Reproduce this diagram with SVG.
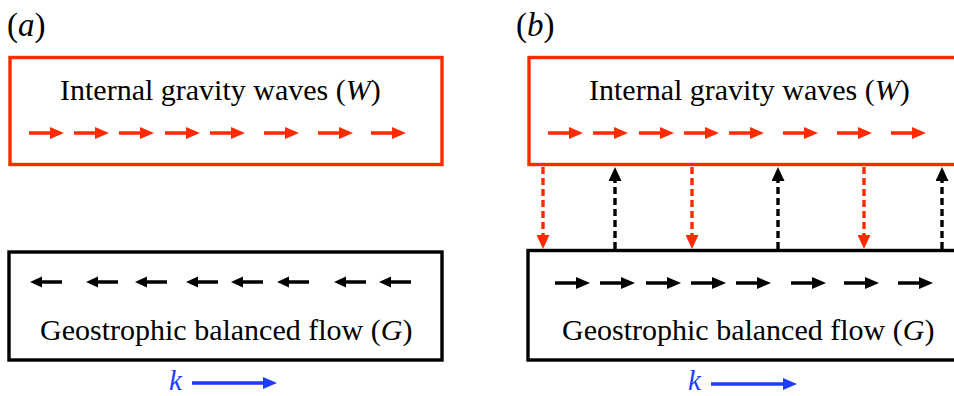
<svg xmlns="http://www.w3.org/2000/svg" width="954" height="396" viewBox="0 0 954 396" font-family="'Liberation Serif', 'Times New Roman', 'DejaVu Serif', serif">
<style>
  text { font-family: "Liberation Serif", "Times New Roman", "DejaVu Serif", serif; font-size: 30px; fill: #000; }
  .it { font-style: italic; }
  .lbl { font-size: 33px; }
  .kt { font-style: italic; font-size: 29px; fill: #1e3cff; }
  .red-box { fill: none; stroke: #ff2a00; stroke-width: 3.4; }
  .blk-box { fill: none; stroke: #000; stroke-width: 3.4; }
  .red { fill: #ff2a00; }
  .blk { fill: #000; }
  .blue { fill: #1e3cff; }
  .dash-red { stroke: #ff2a00; stroke-width: 3.4; stroke-dasharray: 7 4; fill: none; }
  .dash-blk { stroke: #000; stroke-width: 3.4; stroke-dasharray: 7 4; fill: none; }
</style>
<defs>
  <path id="arrR" d="M0,-1.7 H21 V-6 L35,0 L21,6 V1.7 H0 Z"/>
  <path id="arrL" d="M0,0 L12,-5.5 V-1.7 H32 V1.7 H12 V5.5 Z"/>
  <marker id="headRed" viewBox="0 0 14 13" refX="0" refY="6.5" markerUnits="userSpaceOnUse" markerWidth="14" markerHeight="13" orient="auto">
    <path d="M0,0 L14,6.5 L0,13 Z" fill="#ff2a00"/>
  </marker>
  <marker id="headBlk" viewBox="0 0 14 13" refX="0" refY="6.5" markerUnits="userSpaceOnUse" markerWidth="14" markerHeight="13" orient="auto">
    <path d="M0,0 L14,6.5 L0,13 Z" fill="#000"/>
  </marker>
</defs>

<!-- Panel labels -->
<g id="label-a"><text class="lbl" x="7" y="36">(<tspan class="it">a</tspan>)</text></g>
<g id="label-b"><text class="lbl" x="516" y="36">(<tspan class="it">b</tspan>)</text></g>

<!-- Panel (a) waves -->
<g id="a-waves">
  <rect class="red-box" x="10" y="57.5" width="432" height="107"/>
  <text x="60" y="100">Internal gravity waves (<tspan class="it">W</tspan>)</text>
  <g class="red">
    <use href="#arrR" x="29" y="133"/>
    <use href="#arrR" x="74" y="133"/>
    <use href="#arrR" x="119" y="133"/>
    <use href="#arrR" x="165" y="133"/>
    <use href="#arrR" x="210" y="133"/>
    <use href="#arrR" x="264" y="133"/>
    <use href="#arrR" x="318" y="133"/>
    <use href="#arrR" x="371" y="133"/>
  </g>
</g>

<!-- Panel (a) balanced flow -->
<g id="a-balanced">
  <rect class="blk-box" x="9" y="252" width="433" height="108"/>
  <g class="blk">
    <use href="#arrL" x="30" y="282"/>
    <use href="#arrL" x="86" y="282"/>
    <use href="#arrL" x="135" y="282"/>
    <use href="#arrL" x="186" y="282"/>
    <use href="#arrL" x="231" y="282"/>
    <use href="#arrL" x="277" y="282"/>
    <use href="#arrL" x="334" y="282"/>
    <use href="#arrL" x="379" y="282"/>
  </g>
  <text x="40" y="340">Geostrophic balanced flow (<tspan class="it">G</tspan>)</text>
</g>

<g id="a-k">
  <text class="kt" x="169" y="390">k</text>
  <path class="blue" d="M192,381.3 H263 V377 L277,383 L263,389 V384.7 H192 Z"/>
</g>

<!-- Panel (b) waves -->
<g id="b-waves">
  <rect class="red-box" x="529" y="57.5" width="440" height="107"/>
  <text x="589" y="100">Internal gravity waves (<tspan class="it">W</tspan>)</text>
  <g class="red">
    <use href="#arrR" x="548" y="133"/>
    <use href="#arrR" x="593" y="133"/>
    <use href="#arrR" x="639" y="133"/>
    <use href="#arrR" x="684" y="133"/>
    <use href="#arrR" x="729" y="133"/>
    <use href="#arrR" x="783" y="133"/>
    <use href="#arrR" x="837" y="133"/>
    <use href="#arrR" x="891" y="133"/>
  </g>
</g>

<!-- Panel (b) balanced flow -->
<g id="b-balanced">
  <rect class="blk-box" x="528" y="250.5" width="440" height="109.5"/>
  <g class="blk">
    <use href="#arrR" x="555" y="283"/>
    <use href="#arrR" x="600" y="283"/>
    <use href="#arrR" x="646" y="283"/>
    <use href="#arrR" x="691" y="283"/>
    <use href="#arrR" x="736" y="283"/>
    <use href="#arrR" x="791" y="283"/>
    <use href="#arrR" x="844" y="283"/>
    <use href="#arrR" x="898" y="283"/>
  </g>
  <text x="562" y="340">Geostrophic balanced flow (<tspan class="it">G</tspan>)</text>
</g>

<g id="b-k">
  <text class="kt" x="688" y="390">k</text>
  <path class="blue" d="M711,382.3 H783 V378 L797,384 L783,390 V385.7 H711 Z"/>
</g>

<!-- Connectors -->
<g id="connectors">
  <line class="dash-red" x1="543" y1="167" x2="543" y2="235" marker-end="url(#headRed)"/>
  <line class="dash-red" x1="692" y1="167" x2="692" y2="235" marker-end="url(#headRed)"/>
  <line class="dash-red" x1="864" y1="167" x2="864" y2="235" marker-end="url(#headRed)"/>
  <line class="dash-blk" x1="615" y1="249" x2="615" y2="181" marker-end="url(#headBlk)"/>
  <line class="dash-blk" x1="778" y1="249" x2="778" y2="181" marker-end="url(#headBlk)"/>
  <line class="dash-blk" x1="942" y1="249" x2="942" y2="181" marker-end="url(#headBlk)"/>
</g>
</svg>
